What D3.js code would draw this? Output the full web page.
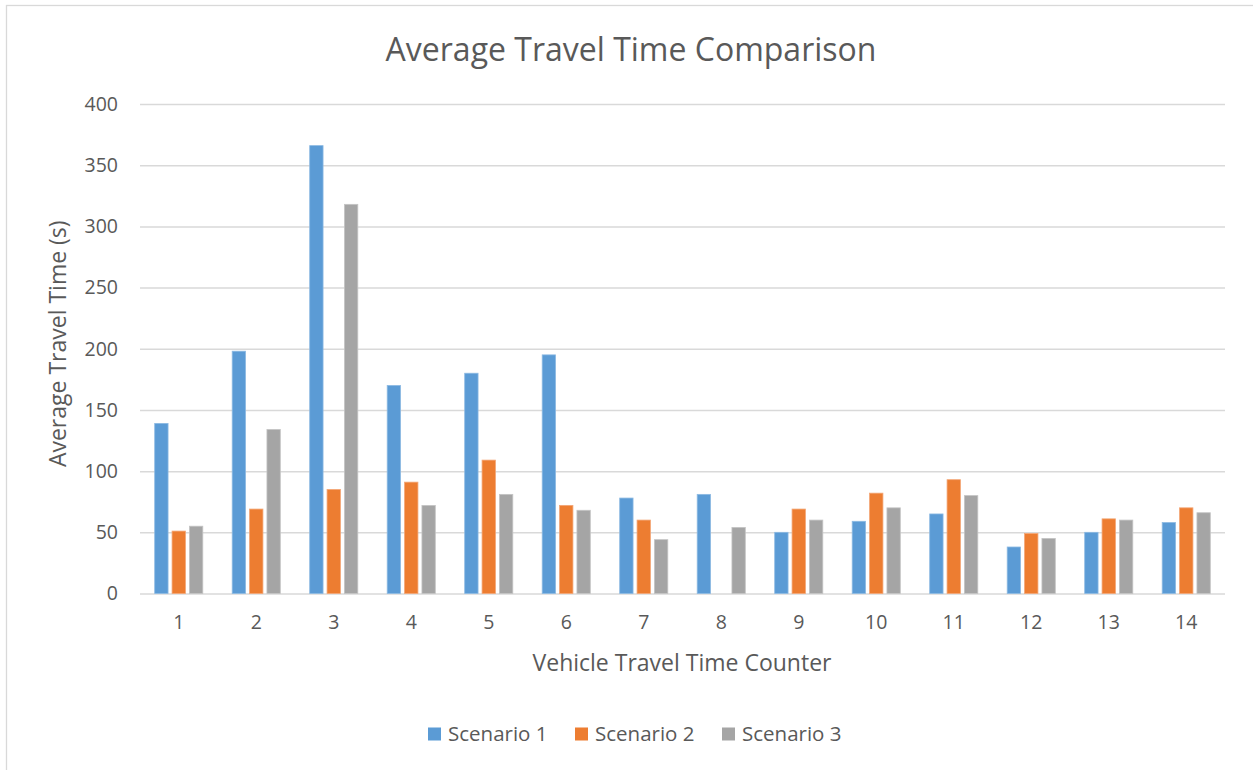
<!DOCTYPE html>
<html>
<head>
<meta charset="utf-8">
<script src="https://cdn.jsdelivr.net/npm/d3@7"></script>
<style>
  html, body { margin: 0; padding: 0; background: #fff; }
  svg { display: block; font-family: "Open Sans", "Noto Sans", sans-serif; }
</style>
</head>
<body>
<svg id="chart" width="1253" height="770"></svg>
<script>
// Vehicle travel time counters on the x axis
const categories = ["1","2","3","4","5","6","7","8","9","10","11","12","13","14"];
const seriesNames = ["Scenario 1", "Scenario 2", "Scenario 3"];
// Average travel time in seconds per counter (null = no measurement)
const scenario1 = [139, 198, 366, 170, 180, 195, 78, 81, 50, 59, 65, 38, 50, 58];
const scenario2 = [51, 69, 85, 91, 109, 72, 60, null, 69, 82, 93, 49, 61, 70];
const scenario3 = [55, 134, 318, 72, 81, 68, 44, 54, 60, 70, 80, 45, 60, 66];
const yTicks = [0, 50, 100, 150, 200, 250, 300, 350, 400];
const colors = ["#5B9BD5", "#ED7D31", "#A5A5A5"];
const strokes = ["#8DBAE3", "#F3A676", "#C4C4C4"];

const seriesValues = [scenario1, scenario2, scenario3];
const rows = categories.map((c, i) => ({
  cat: c,
  vals: seriesNames.map((s, k) => ({ key: s, k, v: seriesValues[k][i] }))
}));

const svg = d3.select("#chart");
const W = 1253, H = 770;
const plot = { left: 140, right: 1225, top: 104, bottom: 593.5 };
const textColor = "#595959";
const gridColor = "#D9D9D9";

// chart frame
svg.append("rect")
  .attr("x", 6.5).attr("y", 5.5)
  .attr("width", W + 20).attr("height", H + 20)
  .attr("fill", "#fff").attr("stroke", gridColor).attr("stroke-width", 1.3);

const x0 = d3.scaleBand().domain(categories).range([plot.left, plot.right]).padding(0);
const x1 = d3.scaleBand().domain(seriesNames).range([0, x0.bandwidth()])
  .paddingInner(0.2307).paddingOuter(0.846);
const y = d3.scaleLinear().domain([0, 400]).range([plot.bottom, plot.top]);

// y axis with gridlines
const yAxis = svg.append("g")
  .attr("transform", `translate(${plot.left},0)`)
  .call(d3.axisLeft(y).tickValues(yTicks).tickSize(-(plot.right - plot.left)).tickPadding(22));
yAxis.select(".domain").remove();
yAxis.selectAll(".tick line").attr("stroke", gridColor).attr("stroke-width", 1.5);
yAxis.selectAll(".tick text")
  .attr("fill", textColor).attr("font-size", 19.5)
  .attr("font-family", "'Open Sans', sans-serif");

// x axis labels
const xAxis = svg.append("g")
  .attr("transform", `translate(0,${plot.bottom})`)
  .call(d3.axisBottom(x0).tickSize(0).tickPadding(22));
xAxis.select(".domain").remove();
xAxis.selectAll(".tick text")
  .attr("fill", textColor).attr("font-size", 19.5)
  .attr("font-family", "'Open Sans', sans-serif");

// bars
const groups = svg.append("g").selectAll("g")
  .data(rows).join("g")
  .attr("transform", d => `translate(${x0(d.cat)},0)`);
groups.selectAll("rect")
  .data(d => d.vals.filter(v => v.v !== null))
  .join("rect")
  .attr("x", d => x1(d.key))
  .attr("width", x1.bandwidth())
  .attr("y", d => y(d.v))
  .attr("height", d => y(0) - y(d.v))
  .attr("fill", d => colors[d.k])
  .attr("stroke", d => strokes[d.k])
  .attr("stroke-width", 0.8);

// title
svg.append("text")
  .attr("x", 631).attr("y", 61)
  .attr("text-anchor", "middle")
  .attr("fill", textColor).attr("font-size", 32)
  .text("Average Travel Time Comparison");

// axis titles
svg.append("text")
  .attr("x", 682).attr("y", 671)
  .attr("text-anchor", "middle")
  .attr("fill", textColor).attr("font-size", 23)
  .text("Vehicle Travel Time Counter");

svg.append("text")
  .attr("transform", `translate(66,${(plot.top + plot.bottom) / 2 - 5}) rotate(-90)`)
  .attr("text-anchor", "middle")
  .attr("fill", textColor).attr("font-size", 23)
  .text("Average Travel Time (s)");

// legend
const legendX = [428, 575, 722];
const legend = svg.append("g").selectAll("g")
  .data(seriesNames).join("g")
  .attr("transform", (d, i) => `translate(${legendX[i]},734)`);
legend.append("rect")
  .attr("x", 0).attr("y", -6.5).attr("width", 13).attr("height", 13)
  .attr("fill", (d, i) => colors[i]);
legend.append("text")
  .attr("x", 20).attr("y", 0).attr("dy", "0.35em")
  .attr("fill", textColor).attr("font-size", 20.5)
  .text(d => d);
</script>
</body>
</html>
